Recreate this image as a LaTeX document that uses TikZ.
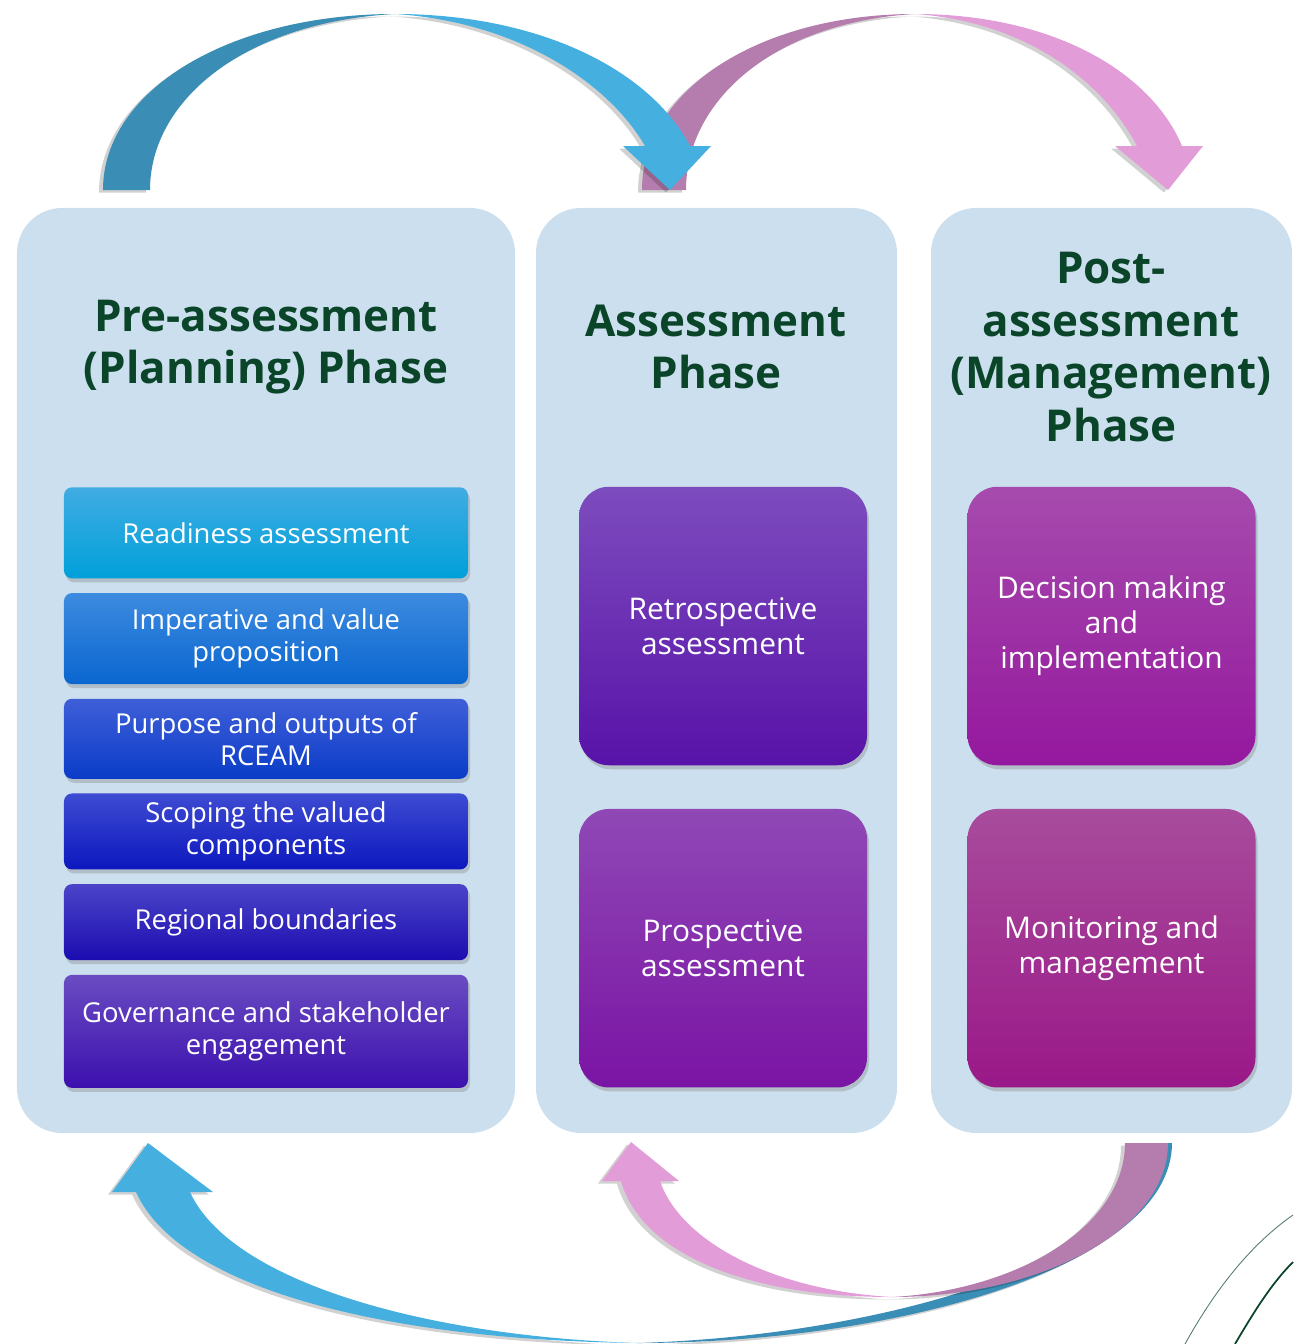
\documentclass[tikz,border=0pt]{standalone}
\usepackage{fontspec}
\setmainfont{Open Sans}
\usepackage{tikz}
\usetikzlibrary{
  calc,
  positioning,
  shadows,
}
\definecolor{panelblue}{HTML}{CCDFEE}
\definecolor{phasegreen}{HTML}{0A4529}
\definecolor{tealdark}{HTML}{3A8DB5}
\definecolor{bluelight}{HTML}{45B0E0}
\definecolor{mauve}{HTML}{B57DAD}
\definecolor{pinklight}{HTML}{E29DD9}
\tikzstyle{panel} = [
  rectangle,
  rounded corners=9mm,
  fill=panelblue,
  minimum height=185mm,
  inner sep=0pt,
]
\tikzstyle{phase} = [
  font=\fontsize{25}{30}\selectfont\bfseries,
  text=phasegreen,
  align=center,
]
\tikzstyle{stepbox} = [
  rectangle,
  rounded corners=1.6mm,
  minimum width=80.8mm,
  inner sep=1pt,
  text=white,
  align=center,
  font=\fontsize{15.6}{18.2}\selectfont,
  drop shadow={opacity=0.35,shadow xshift=0.4mm,shadow yshift=-0.8mm},
]
\tikzstyle{bigbox} = [
  rectangle,
  rounded corners=6mm,
  minimum width=57.6mm,
  minimum height=55.7mm,
  text=white,
  align=center,
  font=\fontsize{17}{20}\selectfont,
  drop shadow={opacity=0.35,shadow xshift=0.4mm,shadow yshift=-0.8mm},
]
\tikzstyle{arcshadow} = [
  preaction={fill=black,opacity=0.18,transform canvas={xshift=-0.8mm,yshift=-0.5mm}},
]

\begin{document}
\begin{tikzpicture}[x=0.2mm,y=-0.2mm,node distance=2.8mm]

  \useasboundingbox (0,0) rectangle (1293,1344);

  % phase panels
  \node[panel,minimum width=99.6mm] (pre)  at (266,670.5)    {};
  \node[panel,minimum width=72.2mm] (asmt) at (716.5,670.5)  {};
  \node[panel,minimum width=72.2mm] (post) at (1111.5,670.5) {};

  \node[phase] (preT)  at (266,347)  {Pre-assessment\\(Planning) Phase};
  \node[phase] (asmtT) at (716,347)  {Assessment\\Phase};
  \node[phase] (postT) at (1111,347) {Post-\\assessment\\(Management)\\Phase};

  % planning steps
  \node[stepbox,minimum height=18.2mm,top color={rgb,255:red,64;green,172;blue,226},bottom color={rgb,255:red,0;green,160;blue,218},anchor=north] (readiness) at (266,487) {Readiness assessment};
  \node[stepbox,minimum height=18.2mm,top color={rgb,255:red,61;green,139;blue,223},bottom color={rgb,255:red,10;green,102;blue,208}] (imperative) [below=of readiness] {Imperative and value\\proposition};
  \node[stepbox,minimum height=16mm,top color={rgb,255:red,63;green,95;blue,216},bottom color={rgb,255:red,10;green,60;blue,200}] (purpose) [below=of imperative] {Purpose and outputs of\\RCEAM};
  \node[stepbox,minimum height=15.2mm,top color={rgb,255:red,62;green,75;blue,210},bottom color={rgb,255:red,12;green,24;blue,190}] (scoping) [below=of purpose] {Scoping the valued\\components};
  \node[stepbox,minimum height=15.2mm,top color={rgb,255:red,75;green,68;blue,200},bottom color={rgb,255:red,27;green,12;blue,176}] (regional) [below=of scoping] {Regional boundaries};
  \node[stepbox,minimum height=22.6mm,top color={rgb,255:red,106;green,76;blue,194},bottom color={rgb,255:red,60;green,16;blue,174}] (governance) [below=of regional] {Governance and stakeholder\\engagement};

  % assessment and management steps
  \node[bigbox,top color={rgb,255:red,125;green,76;blue,190},bottom color={rgb,255:red,88;green,18;blue,168}] (retro) at (723,626) {Retrospective\\assessment};
  \node[bigbox,top color={rgb,255:red,144;green,72;blue,182},bottom color={rgb,255:red,122;green,20;blue,164},below=8.6mm of retro] (prosp) {Prospective\\assessment};
  \node[bigbox,top color={rgb,255:red,166;green,75;blue,173},bottom color={rgb,255:red,149;green,24;blue,158}] (decision) at (1111.5,626) {Decision making\\and\\implementation};
  \node[bigbox,top color={rgb,255:red,168;green,76;blue,156},bottom color={rgb,255:red,154;green,24;blue,136},below=8.6mm of decision] (monitor) {Monitoring and\\management};

  % top arrows
  \fill[mauve,arcshadow] (642,190) .. controls (642,90) and (760,14) .. (915,14)
    .. controls (775,22) and (686,100) .. (686,190) -- cycle;
  \fill[pinklight,arcshadow] (915,14) .. controls (1050,14) and (1150,70) .. (1182,146)
    -- (1203,146) -- (1168,190) -- (1115,146) -- (1137,146)
    .. controls (1105,85) and (1030,22) .. (915,14) -- cycle;
  \fill[tealdark,arcshadow] (103,190) .. controls (103,90) and (230,14) .. (395,14)
    .. controls (245,22) and (150,100) .. (150,190) -- cycle;
  \fill[bluelight,arcshadow] (395,14) .. controls (540,14) and (650,70) .. (690,146)
    -- (711,146) -- (670,190) -- (623,146) -- (645,146)
    .. controls (610,85) and (520,22) .. (395,14) -- cycle;

  % bottom arrows
  \fill[tealdark,arcshadow] (1172,1143) .. controls (1172,1265) and (900,1343) .. (637,1343)
    .. controls (880,1336) and (1150,1260) .. (1150,1143) -- cycle;
  \fill[bluelight,arcshadow] (637,1343) .. controls (390,1340) and (180,1290) .. (136,1192)
    -- (112,1192) -- (148,1143) -- (213,1192) -- (190,1192)
    .. controls (230,1280) and (420,1336) .. (637,1343) -- cycle;
  \fill[mauve,arcshadow] (1168,1143) .. controls (1168,1230) and (1040,1297) .. (892,1297)
    .. controls (1020,1290) and (1125,1225) .. (1125,1143) -- cycle;
  \fill[pinklight,arcshadow] (892,1297) .. controls (740,1297) and (640,1250) .. (621,1181)
    -- (602,1181) -- (631,1142) -- (679,1181) -- (660,1181)
    .. controls (680,1240) and (770,1290) .. (892,1297) -- cycle;

  % corner swirl
  \draw[phasegreen!70,line width=0.5pt] (1185,1344) .. controls (1215,1290) and (1250,1245) .. (1293,1215);
  \draw[phasegreen,line width=1pt] (1235,1344) .. controls (1255,1310) and (1272,1283) .. (1293,1262);

\end{tikzpicture}
\end{document}
